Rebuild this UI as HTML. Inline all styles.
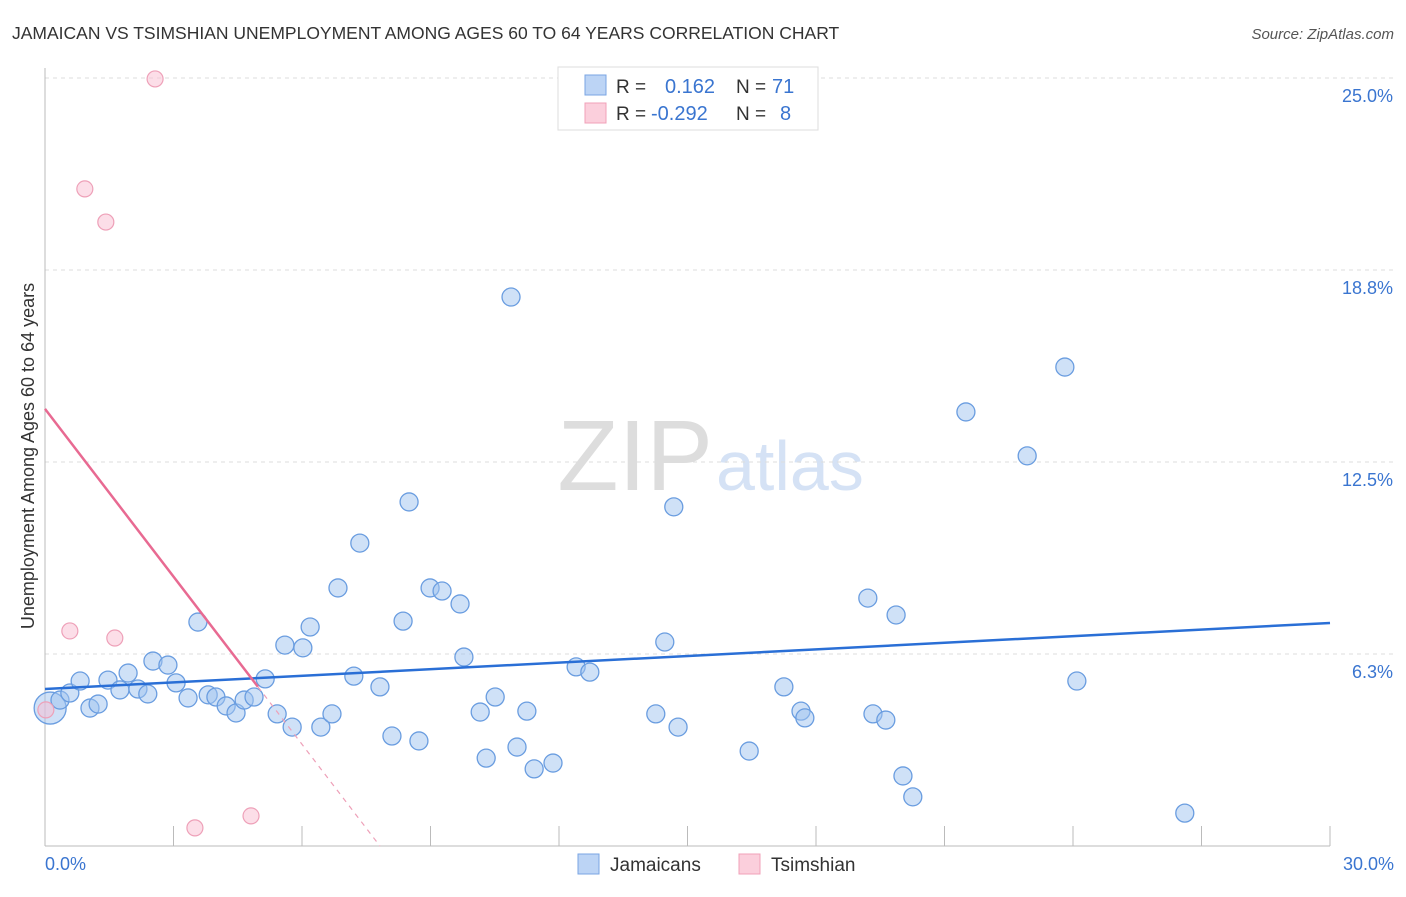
<!DOCTYPE html>
<html><head><meta charset="utf-8"><style>
body{margin:0;background:#fff;font-family:"Liberation Sans",sans-serif}
svg text{font-family:"Liberation Sans",sans-serif}
</style></head><body>
<svg id="c" width="1406" height="892">
<text x="12" y="39" font-size="17.5" fill="#333">JAMAICAN VS TSIMSHIAN UNEMPLOYMENT AMONG AGES 60 TO 64 YEARS CORRELATION CHART</text>
<text x="1394" y="39" font-size="15" fill="#555" font-style="italic" text-anchor="end">Source: ZipAtlas.com</text>
<text x="713" y="490" font-size="100" fill="#ddd" font-family="Liberation Serif" text-anchor="end">ZIP</text>
<text x="716" y="490" font-size="70" fill="#d5e2f5">atlas</text>
<g id="grid"></g><g id="marks"></g>
<text transform="translate(34,456) rotate(-90)" font-size="18" fill="#333" text-anchor="middle">Unemployment Among Ages 60 to 64 years</text>
<text x="45" y="870" font-size="18" fill="#3a75d0">0.0%</text>
<text x="1394" y="870" font-size="18" fill="#3a75d0" text-anchor="end">30.0%</text>
<g>
<rect x="558" y="67" width="260" height="63" fill="#fff" stroke="#ddd"/>
<rect x="585" y="75" width="21" height="20" fill="#bcd4f5" stroke="#7aa5e3"/>
<rect x="585" y="103" width="21" height="20" fill="#fbcfdc" stroke="#f0a0b8"/>
<text x="616" y="93" font-size="19" fill="#333">R =</text><text x="665" y="93" font-size="20" fill="#3a75d0">0.162</text>
<text x="736" y="93" font-size="19" fill="#333">N =</text><text x="772" y="93" font-size="20" fill="#3a75d0">71</text>
<text x="616" y="120" font-size="19" fill="#333">R =</text><text x="651" y="120" font-size="20" fill="#3a75d0">-0.292</text>
<text x="736" y="120" font-size="19" fill="#333">N =</text><text x="780" y="120" font-size="20" fill="#3a75d0">8</text>
</g>
<g>
<rect x="578" y="854" width="21" height="20" fill="#bcd4f5" stroke="#7aa5e3"/>
<text x="610" y="871" font-size="19" fill="#333">Jamaicans</text>
<rect x="739" y="854" width="21" height="20" fill="#fbcfdc" stroke="#f0a0b8"/>
<text x="771" y="871" font-size="19" fill="#333">Tsimshian</text>
</g>
</svg>
<script>
const yTicks=[6.25,12.5,18.75,25];
const yTickLabels=["6.3%","12.5%","18.8%","25.0%"];
const xTicks=[0,3,6,9,12,15,18,21,24,27,30];
const jamX=[0.12,0.35,0.58,0.82,1.05,1.24,1.47,1.75,1.94,2.17,2.40,2.52,2.87,3.06,3.34,3.57,3.81,3.99,4.23,4.46,4.65,4.88,5.14,5.42,5.60,5.77,6.02,6.19,6.44,6.70,6.84,7.21,7.35,7.82,8.10,8.36,8.50,8.73,8.99,9.27,9.69,9.78,10.16,10.30,10.51,10.88,11.02,11.25,11.42,11.86,12.40,12.72,14.26,14.47,14.68,14.78,16.44,17.25,17.65,17.74,19.21,19.33,19.63,19.87,20.03,20.26,21.50,22.93,23.81,24.09,26.61];
const jamY=[4.49,4.75,4.98,5.37,4.49,4.62,5.40,5.08,5.63,5.11,4.95,6.02,5.89,5.31,4.82,7.29,4.92,4.85,4.56,4.33,4.75,4.85,5.44,4.30,6.54,3.87,6.45,7.13,3.87,4.30,8.40,5.53,9.86,5.18,3.58,7.32,11.20,3.42,8.40,8.30,7.88,6.15,4.36,2.86,4.85,17.87,3.22,4.39,2.51,2.70,5.83,5.66,4.30,6.64,11.04,3.87,3.09,5.18,4.39,4.17,8.07,4.30,4.10,7.52,2.28,1.60,14.13,12.70,15.59,5.37,1.07];
const tsiX=[2.57,0.93,1.42,0.58,1.63,3.50,4.81,0.02];
const tsiY=[24.97,21.39,20.31,7.00,6.77,0.59,0.98,4.43];
const jamLine=[5.11,7.26];      // y at x=0 and x=30
const tsiLine=[14.23,-1.82];    // intercept, slope
const tsiSolidEnd=4.97, tsiDashEnd=7.82;
const X=v=>45+v/30*1285, Y=v=>846-v*30.72;
const NS="http://www.w3.org/2000/svg";
function mk(p,t,a){const e=document.createElementNS(NS,t);for(const k in a)e.setAttribute(k,a[k]);p.appendChild(e);return e;}
const g=document.getElementById('grid'),m=document.getElementById('marks');
yTicks.forEach((t,i)=>{
 const l=mk(g,'line',{x1:45,x2:1394,y1:Y(t),y2:Y(t),stroke:'#ddd','stroke-dasharray':'4,4'});
 
 
 const tx=mk(g,'text',{x:1393,y:Y(t)+24,'font-size':18,fill:'#3a75d0','text-anchor':'end'});
 tx.textContent=yTickLabels[i];
 
 
});
const gt=mk(g,'line',{x1:45,x2:1394,y1:Y(25),y2:Y(25),stroke:'#ddd','stroke-dasharray':'4,4'});
const ax=mk(g,'line',{x1:45,x2:45,y1:68,y2:846,stroke:'#bbb'});


const bx=mk(g,'line',{x1:45,x2:1330,y1:846,y2:846,stroke:'#bbb'});


xTicks.forEach(t=>{const l=mk(g,'line',{x1:X(t),x2:X(t),y1:826,y2:846,stroke:'#bbb'});
 
 });
jamX.forEach((x,i)=>{const c=mk(m,'circle',{cx:X(x),cy:Y(jamY[i]),r:i==0?16:9,fill:'rgba(160,195,240,0.5)',stroke:'#6a9de0','stroke-width':1.3});
 
 });
tsiX.forEach((x,i)=>{const c=mk(m,'circle',{cx:X(x),cy:Y(tsiY[i]),r:8,fill:'rgba(250,190,210,0.5)',stroke:'#eea0b8','stroke-width':1.2});
 
 });
const bl=mk(m,'line',{x1:X(0),y1:Y(jamLine[0]),x2:X(30),y2:Y(jamLine[1]),stroke:'#2a6fd6','stroke-width':2.5});


const pl=mk(m,'line',{x1:X(0),y1:Y(tsiLine[0]),x2:X(tsiSolidEnd),y2:Y(tsiLine[0]+tsiLine[1]*tsiSolidEnd),stroke:'#e86a92','stroke-width':2.5});


const pd=mk(m,'line',{x1:X(tsiSolidEnd),y1:Y(tsiLine[0]+tsiLine[1]*tsiSolidEnd),x2:X(tsiDashEnd),y2:Y(tsiLine[0]+tsiLine[1]*tsiDashEnd),stroke:'#eea0b8','stroke-width':1.2,'stroke-dasharray':'5,5'});


</script>
</body></html>
